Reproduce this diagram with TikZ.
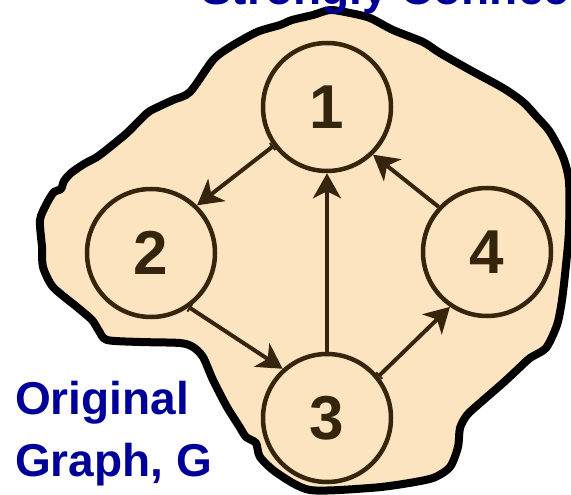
\documentclass[tikz,border=0pt]{standalone}
\usepackage{fontspec}
\setmainfont{Liberation Sans}
\usetikzlibrary{arrows.meta}
\definecolor{cBlob}{HTML}{FCE4C0}
\definecolor{cInk}{HTML}{35250D}
\definecolor{cTitle}{HTML}{000099}
\tikzset{
  blob/.style={draw=black, line width=8pt, fill=cBlob, line join=round},
  vert/.style={circle, draw=cInk, line width=4.5pt, minimum size=128pt, inner sep=0pt,
    font=\fontsize{62}{62}\selectfont\bfseries, text=cInk},
  arr/.style={{Bar[width=9pt,line width=2pt]}-{Stealth[length=25pt,width=28pt,inset=7pt]}, line width=4pt, draw=cInk},
  arrn/.style={-{Stealth[length=25pt,width=28pt,inset=7pt]}, line width=4pt, draw=cInk},
  ttl/.style={text=cTitle, font=\fontsize{46}{62}\selectfont\bfseries, inner sep=0pt, align=left},
}
\begin{document}
\begin{tikzpicture}[x=1pt,y=-1pt]
\useasboundingbox (0,0) rectangle (571,495);
\clip (0,0) rectangle (571,495);
% ---------------- component outline
\draw[blob] plot[smooth cycle, tension=0.45] coordinates {
  (330,10) (350,13) (370,18) (393,30) (423,42) (440,53) (470,70) (503,88)
  (523,102) (537,117) (550,132) (563,157) (569,182) (569,230) (566,265)
  (562,300) (557,325) (546,348) (530,358) (517,370) (503,383) (480,403)
  (467,415) (460,428) (458,447) (450,467) (433,478) (403,484) (370,488)
  (310,490) (277,473) (260,457) (256,443) (246,437) (239,426) (227,407)
  (213,380) (203,357) (193,347) (180,343) (140,342) (107,340) (99,331)
  (92,320) (77,307) (53,287) (43,267) (42,247) (40,220) (47,203) (54,192)
  (61,189) (64,181) (71,173) (84,164) (97,157) (110,147) (127,133)
  (140,120) (150,111) (173,100) (190,92) (213,60) (230,47) (257,32)
  (280,25) (292,20) (313,15)};

% ---------------- vertices
\node[vert] (n1) at (327,107) {1};
\node[vert] (n2) at (151,253) {2};
\node[vert] (n3) at (327,418) {3};
\node[vert] (n4) at (487,252) {4};

% ---------------- edges
\draw[arr] (n1.216) -- (n2.46);
\draw[arr] (n2.-55) -- (n3.132);
\draw[arrn] (n3.north) -- (n1.south);
\draw[arrn] (n4.137) -- (n1.-46);
\draw[arr] (n3.39) -- (n4.-124);

% ---------------- titles
\node[ttl, anchor=base west] (top) at (201,5) {Strongly Connected};
\node[ttl, anchor=base west] (orig) at (15,476) {Original\\Graph, G};
\end{tikzpicture}
\end{document}
